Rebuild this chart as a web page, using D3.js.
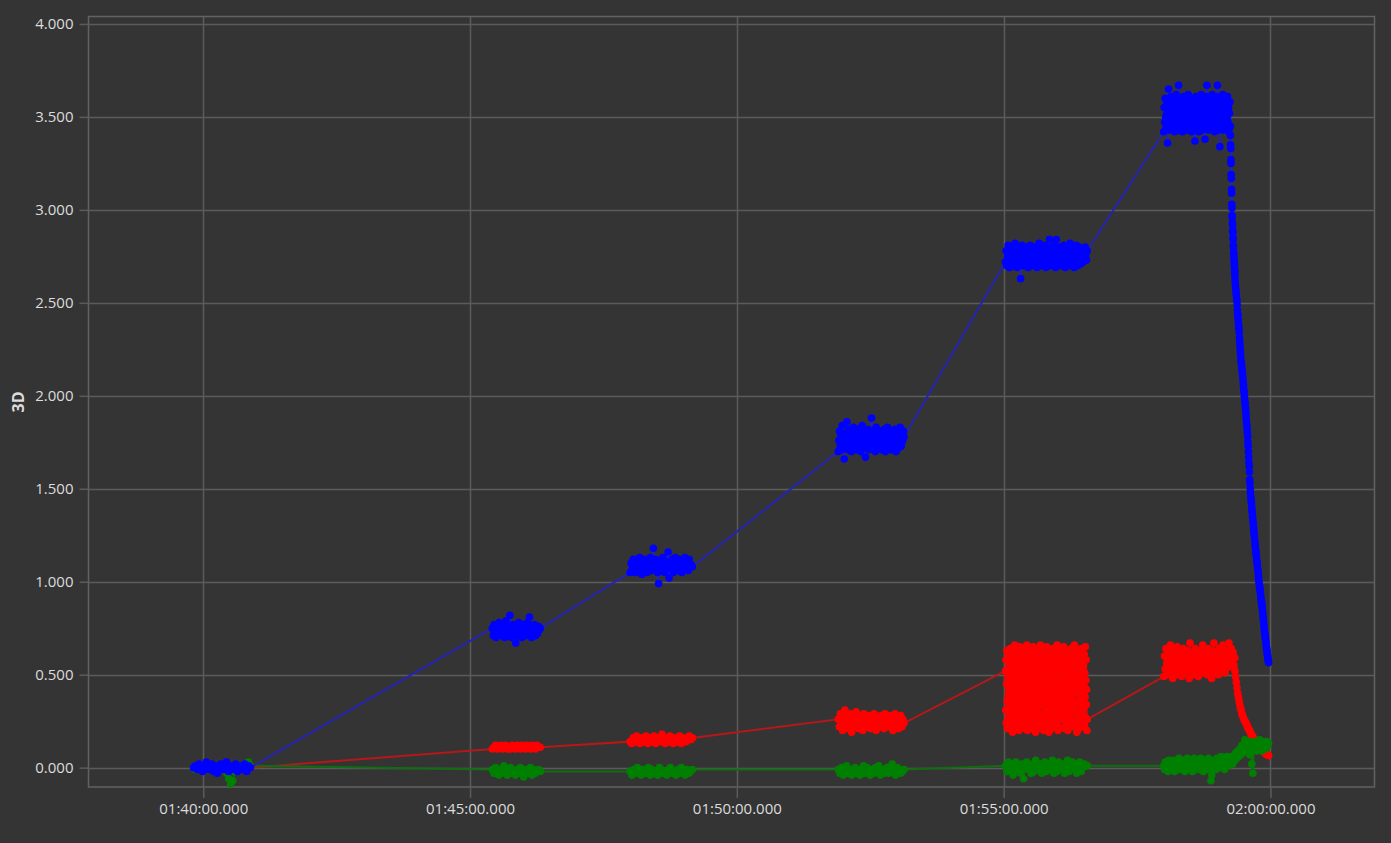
<!DOCTYPE html>
<html><head><meta charset="utf-8">
<script src="https://cdn.jsdelivr.net/npm/d3@7"></script>
<style>html,body{margin:0;padding:0;background:#343434;overflow:hidden}text{font-family:"Open Sans","Noto Sans",sans-serif}</style>
</head><body><svg id="chart" width="1391" height="843"></svg>
<script>
// ---- data ----
const segmentStart = ["01:39:49","01:45:25","01:48:00","01:51:54","01:55:02","01:58:00","01:59:15","01:59:20"];
const segmentEnd   = ["01:40:53","01:46:19","01:49:10","01:53:08","01:56:34","01:59:15","01:59:20","01:59:58"];
const xTickLabels = ["01:40:00.000","01:45:00.000","01:50:00.000","01:55:00.000","02:00:00.000"];
const yTickValues = [0,0.5,1,1.5,2,2.5,3,3.5,4];
const yAxisTitle = "3D";

const redSeries = [
[0,.01,0,-.01,.01,0,.01,-.01,0,.01,0,-.01,0,.01,0,.01,-.01,0,0,.01,0,-.01,.01,0,0,.01,-.01,0,.01,0],
[.10,.11,.12,.10,.11,.12,.10,.11,.12,.10,.11,.10,.12,.11,.10,.12,.11,.10,.12,.11,.10,.12,.11,.10,.12,.11,.10,.12,.11,.11],
[.14,.13,.16,.14,.17,.15,.13,.16,.14,.15,.17,.13,.16,.15,.14,.17,.13,.15,.16,.14,.18,.15,.13,.16,.14,.17,.15,.13,.16,.14,.15,.17,.13,.16,.15,.14,.16,.17,.15,.16],
[.26,.22,.29,.24,.20,.27,.31,.23,.28,.21,.25,.29,.19,.24,.27,.22,.30,.25,.21,.28,.23,.26,.20,.29,.24,.27,.22,.25,.28,.21,.26,.23,.29,.24,.20,.27,.25,.22,.28,.24,.26,.21,.29,.23,.27,.25,.22,.28,.24,.20,.26,.29,.23,.27,.21,.25,.28,.22,.26,.24],
[.52,.31,.58,.24,.45,.63,.36,.21,.49,.27,.61,.40,.55,.33,.43,
 .29,.57,.38,.64,.22,.47,.34,.60,.26,.53,.42,.19,.50,.36,.62,
 .44,.23,.59,.32,.66,.40,.28,.54,.21,.48,.37,.63,.30,.56,.46,
 .35,.61,.25,.51,.41,.20,.58,.33,.65,.44,.27,.55,.38,.23,.49,
 .62,.30,.47,.22,.57,.39,.64,.26,.52,.34,.43,.60,.21,.50,.37,
 .24,.55,.41,.66,.32,.48,.20,.59,.36,.63,.28,.45,.53,.39,.31,
 .58,.37,.21,.50,.29,.62,.44,.25,.56,.33,.47,.65,.40,.23,.52,
 .42,.64,.27,.54,.35,.19,.60,.46,.31,.57,.22,.49,.38,.61,.26,
 .33,.50,.63,.23,.45,.58,.29,.41,.66,.36,.53,.21,.47,.60,.39,
 .56,.26,.43,.61,.34,.20,.52,.38,.64,.28,.48,.57,.24,.42,.31,
 .47,.65,.30,.55,.22,.40,.62,.35,.50,.19,.59,.44,.27,.53,.37,
 .25,.54,.39,.21,.60,.46,.32,.64,.41,.56,.28,.51,.35,.63,.43,
 .61,.34,.49,.27,.57,.42,.23,.53,.37,.66,.30,.45,.20,.58,.40,
 .38,.22,.59,.44,.31,.63,.48,.26,.55,.35,.52,.41,.62,.29,.46,
 .53,.40,.26,.65,.36,.50,.21,.59,.43,.32,.61,.24,.47,.56,.34,
 .30,.58,.45,.20,.54,.37,.63,.28,.49,.41,.23,.57,.33,.60,.44,
 .64,.27,.51,.39,.22,.56,.46,.31,.62,.25,.48,.35,.66,.42,.53,
 .41,.60,.33,.55,.24,.47,.19,.58,.36,.52,.29,.63,.44,.21,.50,
 .26,.49,.62,.35,.57,.43,.28,.64,.39,.22,.54,.46,.31,.59,.37,
 .55,.32,.44,.61,.23,.51,.38,.65,.27,.47,.58,.34,.42,.20,.26],
[.49,.60,.53,.64,.56,.50,.62,.58,.52,.66,.55,.61,.48,.57,.63,.51,.59,.54,.65,.50,
 .58,.62,.53,.60,.49,.56,.64,.52,.61,.57,.51,.63,.55,.59,.48,.67,.54,.60,.52,.62,
 .56,.50,.64,.58,.53,.61,.49,.57,.63,.55,.59,.51,.66,.54,.60,.52,.62,.57,.50,.64,
 .56,.61,.53,.59,.48,.63,.55,.67,.51,.58,.62,.54,.60,.50,.64,.57,.52,.61,.55,.66,
 .53,.59,.51,.63,.56,.60,.54,.67,.57,.58],
[.60,.64,.57,.62,.55,.59],
[.52,.49,.46,.43,.40,.38,.36,.34,.32,.31,.29,.28,.27,.26,.25,.245,.24,.23,.22,.21,.205,.20,.19,.18,.175,.17,.16,.155,.15,.145,.14,.135,.13,.12,.115,.11,.105,.10,.095,.09,.09,.085,.08,.08,.075,.07,.07,.07,.065]
];

const greenSeries = [
[0,-.01,0,.01,-.01,0,.01,-.01,0,0,.01,-.01,0,.01,-.01,0,0,-.03,-.06,-.09,-.07,-.02,0,.01,-.01,0,.01,.02,.03,.01],
[-.01,-.03,0,-.02,-.04,-.01,-.03,.01,-.02,-.04,-.01,0,-.03,-.02,-.04,-.01,-.03,0,-.02,-.05,-.01,-.03,-.02,0,-.04,-.01,-.03,-.02,-.01,-.02],
[-.02,-.04,-.01,-.03,0,-.02,-.04,-.01,-.03,-.02,0,-.04,-.01,-.03,-.02,-.04,0,-.01,-.03,-.02,-.04,-.01,0,-.03,-.02,-.04,-.01,-.03,0,-.02,-.04,-.01,-.03,-.02,-.01],
[-.01,-.03,0,-.04,-.02,.01,-.03,-.01,-.04,-.02,0,-.03,-.01,-.04,-.02,.01,-.03,0,-.02,-.04,-.01,-.03,0,-.02,.01,-.04,-.01,-.03,-.02,0,-.03,-.01,.02,-.02,-.04,0,-.01,-.03,-.02,-.01],
[.01,-.02,.03,-.01,.02,-.04,0,.03,-.02,.01,-.03,.02,-.06,0,.03,-.01,.02,-.03,.01,-.02,.04,0,-.01,.02,-.03,.01,.03,-.02,0,.02,-.01,.04,-.03,.01,-.02,.03,0,-.01,.02,-.03,.01,.04,-.02,0,.03,-.01,.02,-.03,.01,.03,-.02,0,.02,.01,.01],
[.01,-.01,.03,0,.02,-.02,.04,.01,-.01,.03,.02,0,.04,-.02,.01,.03,-.01,.02,.05,0,
 .03,-.01,.02,.04,0,-.02,.03,.01,.05,-.01,.02,.04,0,.03,-.02,.01,.05,.02,-.01,.03,
 .01,.04,-.01,.02,.05,0,.03,-.02,.02,.04,.01,-.01,.03,.05,0,.02,-.07,-.04,.03,.01,
 .04,.02,-.01,.05,.03,0,.04,.02,.06,.01,.03,.05,-.01,.04,.02,.06,.03,.01,.05,.03],
[.03,.06,.02,.05,.04],
[.07,.08,.05,.09,.06,.10,.07,.12,.08,.11,.15,.09,.13,.10,.14,.07,.12,.02,-.03,.10,.14,.11,.09,.13,.10,.15,.12,.09,.14,.11,.13,.10,.14,.12,.13]
];

const blueSeries = [
[0,.01,-.01,.02,0,-.02,.01,.03,-.01,0,.02,-.02,.01,-.03,0,.02,-.01,.01,.03,-.02,0,.01,-.01,.02,-.02,0,.01,-.01,.02,-.02,.01,0],
[.75,.71,.77,.73,.70,.76,.74,.78,.72,.75,.71,.77,.74,.70,.79,.73,.76,.72,.82,.74,.70,.77,.73,.76,.67,.71,.75,.78,.72,.74,.70,.77,.73,.76,.71,.75,.78,.72,.81,.74,.70,.76,.73,.77,.71,.75,.72,.76,.74,.75],
[1.05,1.10,1.07,1.12,1.08,1.05,1.11,1.09,1.06,1.13,1.08,1.04,1.10,1.12,1.07,1.09,1.05,1.11,1.08,1.13,1.06,1.10,1.18,1.07,1.12,1.09,1.05,0.99,1.11,1.08,1.06,1.13,1.09,1.05,1.11,1.07,1.16,1.02,1.10,1.08,1.12,1.05,1.09,1.13,1.07,1.10,1.06,1.12,1.08,1.05,1.11,1.09,1.13,1.07,1.10,1.06,1.12,1.08,1.09,1.08],
[1.70,1.76,1.81,1.73,1.79,1.71,1.84,1.75,1.78,1.66,1.72,1.80,1.74,1.86,1.77,1.71,1.82,1.75,1.79,1.73,1.70,1.81,1.76,1.83,1.72,1.78,1.74,1.80,1.71,1.77,1.82,1.75,1.73,1.79,1.70,1.76,1.84,1.72,1.78,1.74,1.81,1.67,1.75,1.79,1.73,1.82,1.71,1.77,1.80,1.74,1.88,1.76,1.72,1.81,1.75,1.78,1.70,1.83,1.74,1.79,1.72,1.77,1.81,1.73,1.76,1.80,1.71,1.78,1.74,1.82,1.75,1.70,1.79,1.73,1.83,1.76,1.72,1.80,1.74,1.78,1.71,1.81,1.75,1.77,1.73,1.82,1.76,1.70,1.79,1.74,1.80,1.72,1.77,1.83,1.75,1.73,1.79,1.76,1.81,1.78],
[2.72,2.78,2.70,2.75,2.81,2.73,2.69,2.77,2.80,2.74,2.71,2.79,2.76,2.70,2.82,2.73,2.77,2.69,2.75,2.80,2.72,2.78,2.63,2.74,2.81,2.70,2.76,2.79,2.73,2.71,2.77,2.80,2.75,2.69,2.78,2.72,2.81,2.74,2.70,2.76,2.79,2.73,2.77,2.71,2.80,2.75,2.69,2.78,2.72,2.82,2.74,2.70,2.77,2.79,2.73,2.76,2.71,2.81,2.75,2.69,2.78,2.72,2.80,2.74,2.84,2.70,2.77,2.73,2.79,2.76,2.71,2.81,2.75,2.69,2.84,2.72,2.78,2.74,2.80,2.70,2.77,2.73,2.79,2.75,2.71,2.81,2.76,2.69,2.78,2.72,2.80,2.74,2.70,2.77,2.82,2.73,2.76,2.71,2.79,2.75,2.69,2.78,2.72,2.81,2.74,2.70,2.77,2.80,2.73,2.76,2.71,2.79,2.75,2.72,2.78,2.74,2.80,2.76,2.73,2.78],
[3.42,3.55,3.47,3.60,3.50,3.44,3.57,3.52,3.36,3.48,3.65,3.53,3.43,3.58,3.46,3.61,3.51,3.44,3.56,3.49,
 3.59,3.45,3.54,3.42,3.57,3.50,3.62,3.47,3.53,3.44,3.58,3.67,3.48,3.55,3.43,3.60,3.51,3.46,3.57,3.42,
 3.53,3.61,3.49,3.45,3.56,3.52,3.59,3.43,3.50,3.57,3.46,3.62,3.54,3.44,3.58,3.48,3.51,3.60,3.42,3.55,
 3.47,3.59,3.52,3.45,3.57,3.37,3.50,3.61,3.44,3.54,3.58,3.46,3.53,3.42,3.60,3.49,3.56,3.45,3.62,3.51,
 3.43,3.57,3.48,3.59,3.52,3.46,3.38,3.55,3.61,3.44,3.67,3.50,3.58,3.43,3.54,3.47,3.60,3.52,3.45,3.57,
 3.49,3.62,3.44,3.55,3.51,3.59,3.42,3.56,3.48,3.61,3.46,3.53,3.67,3.50,3.58,3.43,3.57,3.34,3.52,3.60,
 3.45,3.55,3.48,3.62,3.43,3.58,3.51,3.46,3.59,3.53,3.44,3.57,3.49,3.61,3.47,3.55,3.42,3.52,3.58,3.45],
[3.40,3.35,3.33,3.27,3.25,3.19,3.17,3.11,3.09,3.03,3.01,2.97,2.96,2.93,2.92,2.89,2.88,2.85,2.84,2.81,2.80,2.77,2.76,2.74,2.73,2.71,2.70,2.68,2.67,2.66],
[2.64,2.62,2.60,2.58,2.57,2.55,2.54,2.52,
 2.51,2.49,2.46,2.44,2.43,2.41,2.39,2.37,2.36,2.34,2.31,2.29,
 2.27,2.25,2.23,2.21,2.19,2.18,2.17,2.15,2.14,2.13,2.11,2.10,2.08,
 2.06,2.05,2.03,2.02,2.00,1.99,1.97,1.96,1.94,1.93,1.91,1.89,
 1.87,1.85,1.84,1.82,1.80,1.78,1.75,1.73,1.70,1.67,1.64,1.62,1.59,
 1.55,1.53,1.50,1.48,1.46,1.45,1.43,1.42,1.40,1.38,1.37,1.35,1.34,1.32,1.31,1.29,
 1.28,1.26,1.25,1.23,1.22,1.20,1.19,1.17,1.16,1.15,1.14,1.12,1.11,
 1.10,1.09,1.07,1.06,1.05,1.03,1.02,1.00,0.99,0.98,0.97,0.96,0.95,0.94,0.92,0.91,
 0.90,0.89,0.88,0.87,0.86,0.84,0.83,0.81,0.80,0.79,0.77,0.76,0.74,0.73,0.72,0.71,0.70,
 0.69,0.68,0.67,0.65,0.64,0.63,0.62,0.61,0.60,0.59,0.58,0.57,0.565]
];

const seriesOrder = ["red","green","blue"];
const seriesData = {red: redSeries, green: greenSeries, blue: blueSeries};
const pointColor = {red:"#ff0000", green:"#008000", blue:"#0000ff"};
const lineColor = {red:"#b41818", green:"#106e10", blue:"#2424b4"};

// ---- layout ----
const W = 1391, H = 843;
const plot = {left: 88.5, right: 1374.5, top: 16.5, bottom: 787};
const parseT = d3.timeParse("%H:%M:%S.%L");
const parseS = d3.timeParse("%H:%M:%S");

const x = d3.scaleTime()
  .domain([parseS("01:37:51"), parseS("02:01:57")])
  .range([plot.left, plot.right]);
const y = d3.scaleLinear().domain([-0.104, 4.040]).range([plot.bottom, plot.top]);

const svg = d3.select("#chart");
svg.append("rect").attr("width", W).attr("height", H).attr("fill", "#343434");

const xTicks = xTickLabels.map(s => parseT(s));
const gridCol = "#5b5b5b";

// grid
svg.append("g").selectAll("line").data(yTickValues).join("line")
  .attr("x1", plot.left).attr("x2", plot.right)
  .attr("y1", d => Math.round(y(d)) + 0.5).attr("y2", d => Math.round(y(d)) + 0.5)
  .attr("stroke", gridCol).attr("stroke-width", 1.5);
svg.append("g").selectAll("line").data(xTicks).join("line")
  .attr("x1", d => Math.round(x(d)) + 0.5).attr("x2", d => Math.round(x(d)) + 0.5)
  .attr("y1", plot.top).attr("y2", plot.bottom)
  .attr("stroke", gridCol).attr("stroke-width", 1.5);

// frame
svg.append("rect").attr("x", plot.left).attr("y", plot.top)
  .attr("width", plot.right - plot.left).attr("height", plot.bottom - plot.top)
  .attr("fill", "none").attr("stroke", "#626262").attr("stroke-width", 1.5);

// axes
const yAxis = d3.axisLeft(y).tickValues(yTickValues).tickFormat(d3.format(".3f")).tickSize(9).tickPadding(6);
const gy = svg.append("g").attr("transform", `translate(${plot.left},0)`).call(yAxis);
const xAxis = d3.axisBottom(x).tickValues(xTicks).tickFormat((d, i) => xTickLabels[i]).tickSize(11).tickPadding(5);
const gx = svg.append("g").attr("transform", `translate(0,${plot.bottom})`).call(xAxis);
[gx, gy].forEach(g => {
  g.select(".domain").remove();
  g.selectAll(".tick line").attr("stroke", gridCol).attr("stroke-width", 1.5);
  g.selectAll(".tick text").attr("fill", "#dcdcdc").style("font-size", "15px");
});

svg.append("text").attr("transform", "translate(18,402) rotate(-90)")
  .attr("text-anchor", "middle").attr("dominant-baseline", "central")
  .attr("fill", "#dcdcdc").style("font-size", "16px").style("font-weight", "bold")
  .text(yAxisTitle);

// build points
function buildPoints(segments) {
  const pts = [];
  segments.forEach((vals, k) => {
    const t0 = parseS(segmentStart[k]).getTime(), t1 = parseS(segmentEnd[k]).getTime();
    const n = vals.length;
    vals.forEach((v, i) => pts.push({t: new Date(t0 + (t1 - t0) * i / (n - 1)), v}));
  });
  return pts;
}

const line = d3.line().x(d => x(d.t)).y(d => y(d.v));
const clip = svg.append("clipPath").attr("id", "clip").append("rect")
  .attr("x", plot.left).attr("y", plot.top).attr("width", plot.right - plot.left).attr("height", plot.bottom - plot.top);
const layer = svg.append("g").attr("clip-path", "url(#clip)");

seriesOrder.forEach(name => {
  const pts = buildPoints(seriesData[name]);
  layer.append("path").datum(pts).attr("d", line)
    .attr("fill", "none").attr("stroke", lineColor[name]).attr("stroke-width", 2);
  layer.append("g").selectAll("circle").data(pts).join("circle")
    .attr("cx", d => x(d.t)).attr("cy", d => y(d.v)).attr("r", 3.8)
    .attr("fill", pointColor[name]);
});
</script></body></html>
